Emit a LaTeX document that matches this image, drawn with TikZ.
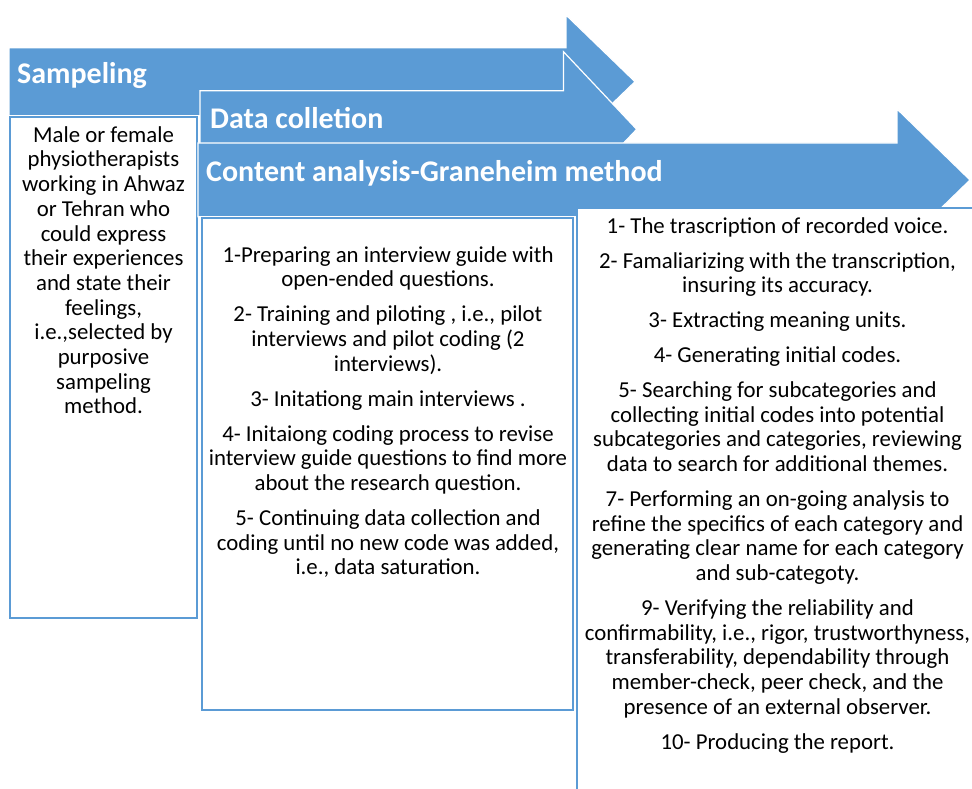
\documentclass[tikz,border=0pt]{standalone}
\usepackage{fontspec}
\setmainfont{Carlito}
\definecolor{arrowblue}{HTML}{5B9BD5}
\begin{document}
\begin{tikzpicture}[x=1pt,y=-1pt,
  arrowshape/.style={fill=arrowblue,draw=white,line width=1.2pt,line join=miter},
  colbox/.style={fill=white,draw=arrowblue,line width=2pt},
  headtext/.style={anchor=base west,inner sep=0pt,text=white,font=\fontsize{30}{32}\selectfont\bfseries},
  bodytext/.style={anchor=north,inner sep=0pt,align=center,font=\fontsize{22.8}{24.7}\selectfont}]
\clip (0,0) rectangle (972,788);
\fill[white] (0,0) rectangle (972,788);
% arrow 1
\path[arrowshape] (9,47.7) -- (566,47.7) -- (566,15) -- (635,81.7) -- (566,148.4) -- (566,115.7) -- (9,115.7) -- cycle;
% column 1 box
\path[colbox] (10,116.7) rectangle (197,618);
% arrow 2
\path[arrowshape] (200,90.7) -- (563.5,90.7) -- (563.5,51.7) -- (636.7,129.3) -- (563.5,206) -- (563.5,167) -- (200,167) -- cycle;
% arrow 3
\path[arrowshape] (198,142.9) -- (897,142.9) -- (897,109) -- (970,180) -- (897,251) -- (897,216.7) -- (198,216.7) -- cycle;
% column boxes
\path[colbox] (202.3,218) rectangle (573.3,710);
\path[colbox] (577,208) rectangle (995,800);
% headers
\node[headtext] (h1) at (17,83) {Sampeling};
\node[headtext] (h2) at (210,128.3) {Data colletion};
\node[headtext] (h3) at (206,181.7) {Content analysis-Graneheim method};
% column texts
\node[bodytext] (t1) at (103.5,124) {\rule{0pt}{18pt}Male or female\\
physiotherapists\\
working in Ahwaz\\
or Tehran who\\
could express\\
their experiences\\
and state their\\
feelings,\\
i.e.,selected by\\
purposive\\
sampeling\\
method.};
\node[bodytext] (t2) at (388,244) {\rule{0pt}{18pt}1-Preparing an interview guide with\\
open-ended questions.\\[10.2pt]
2- Training and piloting , i.e., pilot\\
interviews and pilot coding (2\\
interviews).\\[10.2pt]
3- Initationg main interviews .\\[10.2pt]
4- Initaiong coding process to revise\\
interview guide questions to find more\\
about the research question.\\[10.2pt]
5- Continuing data collection and\\
coding until no new code was added,\\
i.e., data saturation.};
\node[bodytext] (t3) at (777.5,215) {\rule{0pt}{18pt}1- The trascription of recorded voice.\\[10.2pt]
2- Famaliarizing with the transcription,\\
insuring its accuracy.\\[10.2pt]
3- Extracting meaning units.\\[10.2pt]
4- Generating initial codes.\\[10.2pt]
5- Searching for subcategories and\\
collecting initial codes into potential\\
subcategories and categories, reviewing\\
data to search for additional themes.\\[10.2pt]
7- Performing an on-going analysis to\\
refine the specifics of each category and\\
generating clear name for each category\\
and sub-categoty.\\[10.2pt]
9- Verifying the reliability and\\
confirmability, i.e., rigor, trustworthyness,\\
transferability, dependability through\\
member-check, peer check, and the\\
presence of an external observer.\\[10.2pt]
10- Producing the report.};
\end{tikzpicture}
\end{document}
